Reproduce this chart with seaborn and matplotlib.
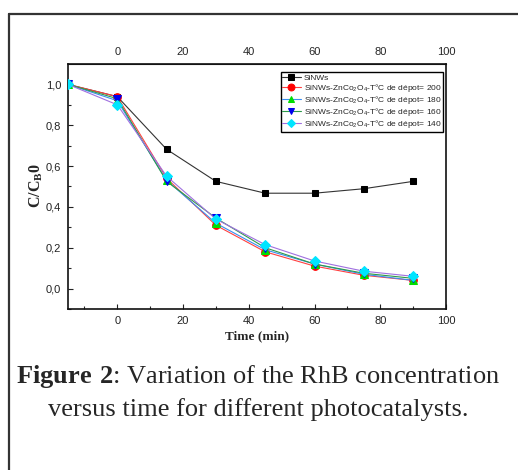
import matplotlib
matplotlib.use("Agg")
import matplotlib.pyplot as plt
import seaborn as sns
import pandas as pd
from matplotlib.lines import Line2D

time_min = [-15, 0, 15, 30, 45, 60, 75, 90]
labels = ["SiNWs",
          "SiNWs-ZnCo$_2$O$_4$-T°C de dépot= 200",
          "SiNWs-ZnCo$_2$O$_4$-T°C de dépot= 180",
          "SiNWs-ZnCo$_2$O$_4$-T°C de dépot= 160",
          "SiNWs-ZnCo$_2$O$_4$-T°C de dépot= 140"]
sinws = [1.0, 0.94, 0.682, 0.525, 0.467, 0.467, 0.489, 0.525]
dep200 = [1.0, 0.94, 0.54, 0.31, 0.18, 0.11, 0.065, 0.04]
dep180 = [1.0, 0.92, 0.53, 0.32, 0.19, 0.12, 0.07, 0.04]
dep160 = [1.0, 0.93, 0.525, 0.345, 0.20, 0.12, 0.075, 0.05]
dep140 = [1.0, 0.90, 0.55, 0.34, 0.215, 0.135, 0.085, 0.06]
series = [sinws, dep200, dep180, dep160, dep140]

line_colors = ["#333333", "#ff4040", "#3a8ef0", "#2e9a4a", "#a070e0"]
marker_colors = ["#000000", "#ff0000", "#00dd00", "#0000ee", "#00e5ff"]
markers = ["s", "o", "^", "v", "D"]
msizes = [4.5, 5.5, 5.5, 5.5, 5]

sns.set_style("ticks")
plt.rcParams["font.family"] = ["Liberation Sans", "DejaVu Sans"]
plt.rcParams["mathtext.fontset"] = "custom"
plt.rcParams["mathtext.rm"] = "Liberation Sans"
plt.rcParams["mathtext.bf"] = "Liberation Serif:bold"

fig = plt.figure(figsize=(5.18, 4.70), dpi=100)
ax = fig.add_axes([0.1313, 0.3426, 0.7297, 0.5213])

for lab, vals, lc, mc, mk, ms in zip(labels, series, line_colors, marker_colors, markers, msizes):
    df = pd.DataFrame({"t": time_min, "c": vals})
    sns.lineplot(data=df, x="t", y="c", ax=ax, color=lc, lw=0.8, marker=mk,
                 markersize=ms, markerfacecolor=mc, markeredgecolor=mc,
                 label=lab, zorder=3)

ax.set_xlim(-15, 100)
ax.set_ylim(-0.1, 1.1)
ax.set_xticks([0, 20, 40, 60, 80, 100])
ax.set_xticks([-10, 10, 30, 50, 70, 90], minor=True)
ax.set_yticks([0.0, 0.2, 0.4, 0.6, 0.8, 1.0])
ax.set_yticks([-0.1, 0.1, 0.3, 0.5, 0.7, 0.9], minor=True)
ax.set_yticklabels([f"{v:.1f}".replace(".", ",") for v in [0.0, 0.2, 0.4, 0.6, 0.8, 1.0]])
ax.tick_params(axis="both", which="major", direction="in", length=3.5, width=0.8,
               labelsize=8, pad=5, colors="#222222")
ax.tick_params(axis="both", which="minor", direction="in", length=2, width=0.8)
for s in ax.spines.values():
    s.set_linewidth(1.2)
    s.set_color("#111111")
    s.set_visible(True)

sec = ax.secondary_xaxis("top")
sec.set_xticks([0, 20, 40, 60, 80, 100])
sec.tick_params(length=0, labelsize=8, pad=5)

ax.set_xlabel("Time (min)", fontsize=9.5, fontweight="bold",
              family=["Liberation Serif"], labelpad=3)
ax.set_ylabel("")
fig.text(0.069, 0.606, r"C/C$_{\mathbf{B}}$0", rotation=90, fontsize=11.5,
         fontweight="bold", family=["Liberation Serif"], ha="center", va="center")

leg = ax.legend(loc="upper right", bbox_to_anchor=(0.992, 0.967), fontsize=6,
                frameon=True, fancybox=False, edgecolor="black", framealpha=1,
                borderpad=0.2, labelspacing=0.02, handlelength=2.2,
                handletextpad=0.35, borderaxespad=0, markerscale=0.9)
leg.get_frame().set_linewidth(1.0)

# outer document frame
fig.add_artist(Line2D([9 / 518, 1.0], [1 - 14 / 470, 1 - 14 / 470],
                      transform=fig.transFigure, color="#333333", lw=1.6))
fig.add_artist(Line2D([9 / 518, 9 / 518], [1 - 14 / 470, 0.0],
                      transform=fig.transFigure, color="#333333", lw=1.6))

y1 = 1 - 383 / 470
fig.text(0.498, y1, r"$\mathbf{Figure\ 2}$: Variation of the RhB concentration",
         ha="center", va="baseline", fontsize=19, family=["Liberation Serif"])
y2 = 1 - 416 / 470
fig.text(0.498, y2, "versus time for different photocatalysts.",
         ha="center", va="baseline", fontsize=19, family=["Liberation Serif"])

fig.savefig("out.png", dpi=100)
